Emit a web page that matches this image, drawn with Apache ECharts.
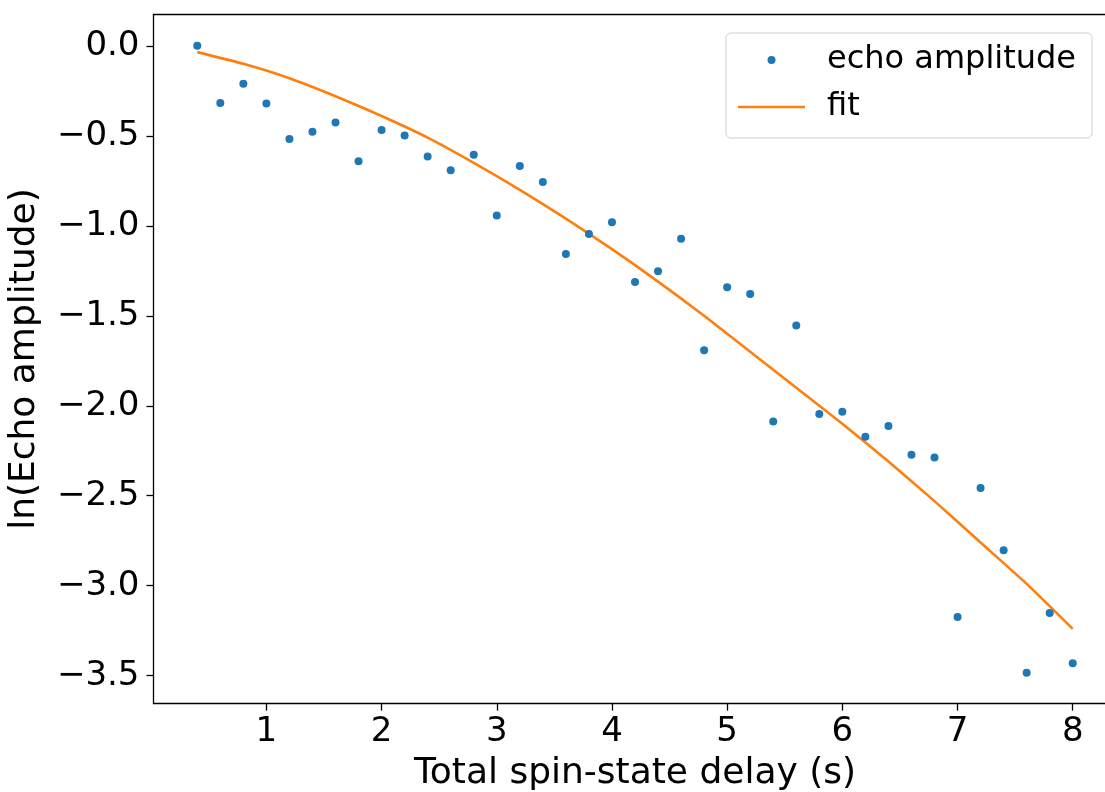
<!DOCTYPE html>
<html>
<head>
<meta charset="utf-8">
<script src="https://cdn.jsdelivr.net/npm/echarts@6/dist/echarts.min.js"></script>
<style>
  html, body { margin: 0; padding: 0; background: #fff; }
  #chart { width: 1105px; height: 792px; }
</style>
</head>
<body>
<div id="chart"></div>
<script>
// delay times (s) and measured ln(echo amplitude)
const delays = [0.4, 0.6, 0.8, 1.0, 1.2, 1.4, 1.6, 1.8, 2.0, 2.2, 2.4, 2.6, 2.8, 3.0, 3.2, 3.4, 3.6, 3.8, 4.0, 4.2,
                4.4, 4.6, 4.8, 5.0, 5.2, 5.4, 5.6, 5.8, 6.0, 6.2, 6.4, 6.6, 6.8, 7.0, 7.2, 7.4, 7.6, 7.8, 8.0];
const echoLn = [0.0, -0.318, -0.211, -0.320, -0.518, -0.478, -0.426, -0.641, -0.468, -0.498, -0.615, -0.691, -0.605,
                -0.943, -0.668, -0.757, -1.157, -1.046, -0.981, -1.313, -1.253, -1.072, -1.691, -1.342, -1.379,
                -2.087, -1.554, -2.046, -2.034, -2.172, -2.113, -2.272, -2.287, -3.174, -2.457, -2.803, -3.483,
                -3.152, -3.431];

// fitted curve
const fitX = [0.4, 0.8, 1.2, 1.6, 2.0, 2.4, 2.8, 3.2, 3.6, 4.0, 4.4, 4.8, 5.2, 5.6, 6.0, 6.4, 6.8, 7.2, 7.6, 8.0];
const fitY = [-0.035, -0.10, -0.18, -0.28, -0.39, -0.51, -0.65, -0.80, -0.96, -1.13, -1.31, -1.50, -1.70, -1.90,
              -2.10, -2.31, -2.53, -2.76, -2.99, -3.24];

const xTicks = [1, 2, 3, 4, 5, 6, 7, 8];
const yTicks = [0, -0.5, -1.0, -1.5, -2.0, -2.5, -3.0, -3.5];

const FONT = 'DejaVu Sans';
const chart = echarts.init(document.getElementById('chart'));

chart.setOption({
  animation: false,
  backgroundColor: '#fff',
  textStyle: { fontFamily: FONT, color: '#000' },
  grid: {
    left: 153.5, top: 14.5, right: -11.5, bottom: 88.4,
    outerBoundsMode: 'none', containLabel: false, show: false
  },
  legend: {
    orient: 'vertical',
    left: 726, top: 33,
    itemWidth: 67, itemHeight: 8, itemGap: 9,
    padding: [8, 16, 12, 12],
    backgroundColor: 'rgba(255,255,255,0.8)',
    borderColor: '#d0d0d0', borderWidth: 1, borderRadius: 5,
    textStyle: { fontFamily: FONT, fontSize: 32, color: '#000', lineHeight: 38, padding: [0, 0, 0, 17] },
    data: [
      { name: 'echo amplitude', icon: 'circle' },
      { name: 'fit', icon: 'path://M0,0 L67,0 L67,2.6 L0,2.6 Z' }
    ]
  },
  xAxis: [
    {
      type: 'value', min: 0.02, max: 8.38,
      name: 'Total spin-state delay (s)', nameLocation: 'middle', nameGap: 52,
      nameTextStyle: { fontFamily: FONT, fontSize: 36, color: '#000' },
      splitLine: { show: false },
      axisLine: { show: true, onZero: false, lineStyle: { color: '#000', width: 1.3 } },
      axisTick: { show: true, length: 7, customValues: xTicks, lineStyle: { color: '#000', width: 1.3 } },
      axisLabel: { customValues: xTicks, fontSize: 34, color: '#000', margin: 12, fontFamily: FONT }
    },
    {
      // top frame line only
      type: 'value', position: 'top', min: 0.02, max: 8.38,
      splitLine: { show: false }, axisTick: { show: false }, axisLabel: { show: false },
      axisLine: { show: true, onZero: false, lineStyle: { color: '#000', width: 1.3 } }
    }
  ],
  yAxis: {
    type: 'value', min: -3.655, max: 0.174,
    name: 'ln(Echo amplitude)', nameLocation: 'middle', nameGap: 111,
    nameTextStyle: { fontFamily: FONT, fontSize: 36, color: '#000' },
    splitLine: { show: false },
    axisLine: { show: true, onZero: false, lineStyle: { color: '#000', width: 1.3 } },
    axisTick: { show: true, length: 7, customValues: yTicks, lineStyle: { color: '#000', width: 1.3 } },
    axisLabel: {
      customValues: yTicks, fontSize: 34, color: '#000', margin: 14, fontFamily: FONT,
      formatter: v => (v < 0 ? '\u2212' : '') + Math.abs(v).toFixed(1)
    }
  },
  series: [
    {
      name: 'echo amplitude',
      type: 'scatter',
      symbol: 'circle',
      symbolSize: 8,
      itemStyle: { color: '#1f77b4', opacity: 1 },
      data: delays.map((d, i) => [d, echoLn[i]]),
      z: 3
    },
    {
      name: 'fit',
      type: 'line',
      symbol: 'none',
      smooth: 0.2,
      lineStyle: { color: '#ff7f0e', width: 2.6 },
      itemStyle: { color: '#ff7f0e' },
      data: fitX.map((d, i) => [d, fitY[i]]),
      z: 2
    }
  ]
});
</script>
</body>
</html>
